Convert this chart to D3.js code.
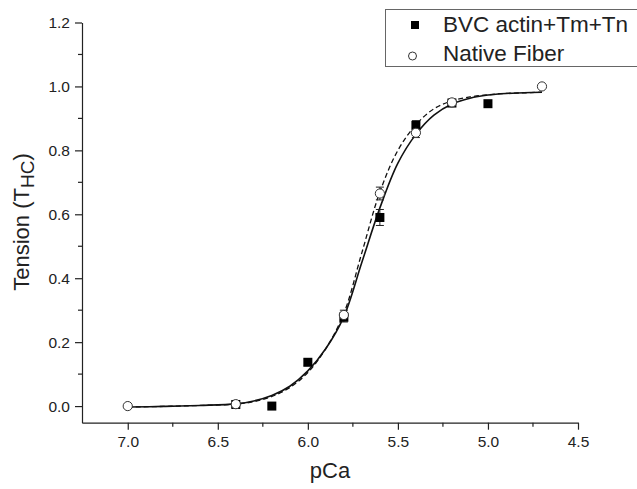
<!DOCTYPE html>
<html lang="en">
<head>
    <meta charset="UTF-8">
    <title>Tension vs pCa</title>
    <style>
        body { margin: 0; background: #fff; }
        text { font-family: "Liberation Sans", Arial, sans-serif; fill: #222; }
        .axis path, .axis line { stroke: #222; stroke-width: 1.2px; }
    </style>
    <script src="https://d3js.org/d3.v7.min.js"></script>
</head>
<body>
    <script>
        // measured points
        const bvcPCa = [6.4, 6.2, 6.0, 5.8, 5.6, 5.4, 5.2, 5.0];
        const bvcT = [0.005, 0.0, 0.137, 0.278, 0.59, 0.878, 0.948, 0.946];
        const bvcErr = [0.01, 0, 0.01, 0.015, 0.025, 0.015, 0.01, 0];

        const natPCa = [7.0, 6.4, 5.8, 5.6, 5.4, 5.2, 4.7];
        const natT = [0.0, 0.006, 0.285, 0.665, 0.855, 0.95, 1.0];
        const natErr = [0, 0.01, 0.015, 0.02, 0.015, 0.01, 0];

        // fitted curves
        const fitPCa = [7.0, 6.8, 6.6, 6.4, 6.3, 6.2, 6.1, 6.0, 5.9, 5.8, 5.7, 5.6, 5.5, 5.4, 5.3, 5.2, 5.1, 5.0, 4.9, 4.8, 4.7];
        const bvcFit = [-0.003, -0.001, 0.002, 0.007, 0.016, 0.033, 0.062, 0.11, 0.18, 0.28, 0.45, 0.62, 0.76, 0.85, 0.91, 0.945, 0.963, 0.973, 0.978, 0.98, 0.982];
        const natFit = [-0.003, -0.001, 0.002, 0.006, 0.014, 0.03, 0.058, 0.105, 0.18, 0.29, 0.48, 0.67, 0.80, 0.88, 0.93, 0.955, 0.967, 0.974, 0.978, 0.98, 0.982];

        const xMajor = [7.0, 6.5, 6.0, 5.5, 5.0, 4.5];
        const xMinor = [6.75, 6.25, 5.75, 5.25, 4.75];
        const yMajor = [0.0, 0.2, 0.4, 0.6, 0.8, 1.0, 1.2];
        const yMinor = [0.1, 0.3, 0.5, 0.7, 0.9, 1.1];

        const legendLabels = ["BVC actin+Tm+Tn", "Native Fiber"];

        const width = 637, height = 489;
        const svg = d3.select("body").append("svg")
            .attr("width", width).attr("height", height);

        const x = d3.scaleLinear().domain([7.254, 4.5]).range([82, 578]);
        const y = d3.scaleLinear().domain([-0.052, 1.2]).range([422.7, 22.5]);

        // axes
        const xAxis = svg.append("g").attr("class", "axis")
            .attr("transform", `translate(0,${y.range()[0]})`)
            .call(d3.axisBottom(x).tickValues(xMajor).tickSize(7).tickSizeOuter(0).tickPadding(6).tickFormat(d3.format(".1f")));
        xAxis.selectAll(".minor").data(xMinor).enter().append("line")
            .attr("x1", d => x(d)).attr("x2", d => x(d)).attr("y1", 0).attr("y2", 4)
            .attr("stroke", "#222").attr("stroke-width", 1.2);

        const yAxis = svg.append("g").attr("class", "axis")
            .attr("transform", `translate(${x.range()[0]},0)`)
            .call(d3.axisLeft(y).tickValues(yMajor).tickSize(7).tickSizeOuter(0).tickPadding(5).tickFormat(d3.format(".1f")));
        yAxis.selectAll(".minor").data(yMinor).enter().append("line")
            .attr("y1", d => y(d)).attr("y2", d => y(d)).attr("x1", 0).attr("x2", -4)
            .attr("stroke", "#222").attr("stroke-width", 1.2);

        svg.selectAll(".axis .tick text").attr("font-size", 15.5).attr("fill", "#333")
            .style("font-family", "'Liberation Sans', Arial, sans-serif");
        svg.selectAll(".axis .domain").attr("stroke", "#222");

        // axis titles
        svg.append("text").attr("x", 330).attr("y", 478)
            .attr("text-anchor", "middle").attr("font-size", 22).text("pCa");
        const yt = svg.append("text")
            .attr("transform", "translate(29,222) rotate(-90)")
            .attr("text-anchor", "middle").attr("font-size", 22);
        yt.append("tspan").text("Tension (T");
        yt.append("tspan").attr("dy", 5).attr("font-size", 19).text("HC");
        yt.append("tspan").attr("dy", -5).text(")");

        // fit lines
        const line = d3.line().x(d => x(d[0])).y(d => y(d[1])).curve(d3.curveCatmullRom);
        svg.append("path").datum(d3.zip(fitPCa, natFit))
            .attr("d", line).attr("fill", "none").attr("stroke", "#111")
            .attr("stroke-width", 1.3).attr("stroke-dasharray", "5,3");
        svg.append("path").datum(d3.zip(fitPCa, bvcFit))
            .attr("d", line).attr("fill", "none").attr("stroke", "#111")
            .attr("stroke-width", 1.6);

        // error bars
        function errorBars(px, py, pe) {
            const g = svg.append("g").attr("stroke", "#222").attr("stroke-width", 1);
            const data = d3.zip(px, py, pe).filter(d => d[2] > 0);
            g.selectAll(".v").data(data).enter().append("line")
                .attr("x1", d => x(d[0])).attr("x2", d => x(d[0]))
                .attr("y1", d => y(d[1] - d[2])).attr("y2", d => y(d[1] + d[2]));
            [-1, 1].forEach(s => {
                g.selectAll(".c" + s).data(data).enter().append("line")
                    .attr("x1", d => x(d[0]) - 4).attr("x2", d => x(d[0]) + 4)
                    .attr("y1", d => y(d[1] + s * d[2])).attr("y2", d => y(d[1] + s * d[2]));
            });
        }
        errorBars(bvcPCa, bvcT, bvcErr);
        errorBars(natPCa, natT, natErr);

        // markers
        svg.selectAll(".sq").data(d3.zip(bvcPCa, bvcT)).enter().append("rect")
            .attr("x", d => x(d[0]) - 4.5).attr("y", d => y(d[1]) - 4.5)
            .attr("width", 9).attr("height", 9).attr("fill", "#000");
        svg.selectAll(".ci").data(d3.zip(natPCa, natT)).enter().append("circle")
            .attr("cx", d => x(d[0])).attr("cy", d => y(d[1])).attr("r", 4.6)
            .attr("fill", "#fff").attr("stroke", "#333").attr("stroke-width", 1);

        // legend
        const lg = svg.append("g");
        lg.append("rect").attr("x", 385.5).attr("y", 9.5).attr("width", 260).attr("height", 57)
            .attr("fill", "#fff").attr("stroke", "#666").attr("stroke-width", 1);
        lg.append("rect").attr("x", 411).attr("y", 21).attr("width", 8).attr("height", 8).attr("fill", "#000");
        lg.append("circle").attr("cx", 412.5).attr("cy", 56).attr("r", 4).attr("fill", "#fff")
            .attr("stroke", "#333").attr("stroke-width", 1);
        lg.selectAll(".lt").data(legendLabels).enter().append("text")
            .attr("x", 443).attr("y", (d, i) => 32 + i * 29)
            .attr("font-size", 22.5).text(d => d);
    </script>
</body>
</html>
